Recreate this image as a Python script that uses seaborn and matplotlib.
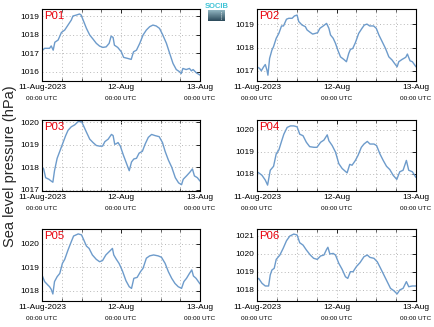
import numpy as np
import pandas as pd
import matplotlib
matplotlib.use("Agg")
import matplotlib.pyplot as plt
from matplotlib.ticker import MultipleLocator, FixedLocator
import seaborn as sns

# Hourly offsets from 11-Aug-2023 00:00 UTC and sea level pressure (hPa) per station
p01_hours = [0, 0.8, 2.3, 2.8, 3.4, 3.9, 4.9, 5.9, 6.9, 7.9, 8.9, 9.4, 10.4, 11.4, 11.9, 12.5, 13.5, 14.5,
             15.5, 16.5, 17.5, 18.5, 19.5, 20.4, 21.0, 21.6, 22.0, 23.0, 24.1, 24.8, 26.1, 27.1, 27.8,
             28.7, 29.7, 30.7, 31.7, 32.7, 33.7, 34.7, 35.7, 36.7, 37.8, 38.8, 39.8, 40.8, 41.8, 42.3,
             42.8, 43.8, 44.8, 45.4, 45.9, 46.9, 48.0]
p01_slp = [1017.14, 1017.27, 1017.27, 1017.40, 1017.17, 1017.60, 1017.72, 1018.13, 1018.26, 1018.53,
           1018.80, 1019.02, 1019.07, 1019.13, 1019.07, 1018.80, 1018.35, 1017.99, 1017.77, 1017.54,
           1017.39, 1017.32, 1017.35, 1017.54, 1017.93, 1017.86, 1017.44, 1017.32, 1017.08, 1016.78,
           1016.72, 1016.67, 1017.08, 1017.17, 1017.54, 1017.99, 1018.26, 1018.44, 1018.53, 1018.48,
           1018.35, 1017.99, 1017.54, 1016.99, 1016.45, 1016.12, 1016.00, 1015.90, 1016.18, 1016.12,
           1016.18, 1016.05, 1016.12, 1015.94, 1015.82]

p02_hours = [0, 0.8, 1.3, 2.0, 2.5, 3.0, 3.3, 3.8, 4.5, 5.0, 5.8, 6.6, 7.4, 8.0, 8.9, 9.6, 10.6, 11.3,
             12.1, 12.6, 13.6, 14.6, 15.1, 16.1, 16.8, 17.6, 18.3, 19.0, 20.0, 21.0, 21.7, 22.2, 23.0,
             23.7, 24.4, 25.2, 26.2, 27.0, 27.7, 28.2, 28.9, 29.7, 30.7, 31.7, 32.4, 33.2, 34.0, 35.2,
             36.0, 36.8, 37.8, 38.8, 39.8, 40.8, 41.5, 42.3, 42.8, 43.8, 44.9, 45.4, 46.2, 46.9, 48.0]
p02_slp = [1017.17, 1017.10, 1017.00, 1017.17, 1017.27, 1017.03, 1016.81, 1017.53, 1017.89, 1018.04,
           1018.40, 1018.61, 1018.93, 1018.93, 1019.22, 1019.26, 1019.26, 1019.36, 1019.40, 1019.12,
           1018.97, 1018.90, 1018.76, 1018.65, 1018.58, 1018.61, 1018.64, 1018.83, 1018.93, 1019.04,
           1018.83, 1018.54, 1018.40, 1018.18, 1017.89, 1017.60, 1017.49, 1017.39, 1017.75, 1017.92,
           1017.96, 1018.21, 1018.61, 1018.83, 1018.97, 1019.01, 1018.93, 1018.93, 1018.83, 1018.54,
           1018.25, 1017.96, 1017.60, 1017.46, 1017.32, 1017.17, 1017.39, 1017.49, 1017.58, 1017.72,
           1017.43, 1017.39, 1017.17]

p03_hours = [0, 0.5, 1.1, 2.1, 2.8, 3.3, 3.8, 4.6, 5.4, 6.4, 7.2, 7.9, 8.9, 9.9, 11.0, 12.0, 12.5, 13.5,
             14.5, 15.5, 16.5, 17.5, 18.4, 19.1, 20.1, 21.1, 21.6, 22.1, 22.6, 23.1, 23.8, 24.7, 25.5,
             26.5, 27.2, 27.9, 28.7, 29.5, 30.5, 31.3, 32.3, 33.3, 34.3, 35.6, 36.6, 37.4, 38.4, 39.4,
             40.5, 41.5, 42.4, 42.9, 43.9, 44.9, 45.7, 46.3, 47.2, 48.0]
p03_slp = [1018.01, 1017.93, 1017.54, 1017.47, 1017.39, 1017.34, 1017.85, 1018.40, 1018.71, 1019.10,
           1019.41, 1019.64, 1019.80, 1019.88, 1020.03, 1020.03, 1019.88, 1019.56, 1019.25, 1019.10,
           1018.97, 1018.94, 1018.94, 1019.14, 1019.25, 1019.46, 1019.41, 1019.02, 1019.05, 1019.10,
           1018.94, 1018.55, 1018.24, 1017.85, 1018.24, 1018.37, 1018.40, 1018.63, 1018.71, 1019.02,
           1019.33, 1019.46, 1019.41, 1019.36, 1019.10, 1018.71, 1018.32, 1018.01, 1017.54, 1017.31,
           1017.23, 1017.47, 1017.62, 1017.78, 1017.93, 1017.62, 1017.54, 1017.39]

p04_hours = [0, 0.8, 1.5, 2.5, 3.2, 4.0, 5.0, 5.8, 6.6, 7.4, 8.1, 9.1, 10.1, 11.1, 12.1, 12.9, 13.9, 14.9,
             15.9, 17.2, 18.1, 19.2, 20.2, 21.2, 21.7, 22.7, 23.7, 24.7, 25.7, 27.2, 28.0, 28.7, 29.7,
             30.5, 31.5, 32.3, 33.3, 34.1, 35.3, 36.1, 37.1, 38.1, 39.1, 40.1, 41.1, 42.2, 43.1, 44.1,
             45.1, 45.8, 46.9, 48.0]
p04_slp = [1018.08, 1018.00, 1017.92, 1017.70, 1017.47, 1018.15, 1018.33, 1018.90, 1019.08, 1019.47,
           1019.80, 1020.11, 1020.18, 1020.18, 1020.14, 1019.80, 1019.73, 1019.43, 1019.23, 1019.20,
           1019.20, 1019.43, 1019.53, 1019.77, 1019.50, 1019.28, 1018.98, 1018.45, 1018.23, 1018.03,
           1018.42, 1018.38, 1018.60, 1018.83, 1019.20, 1019.35, 1019.47, 1019.35, 1019.35, 1019.28,
           1018.90, 1018.60, 1018.33, 1018.18, 1017.92, 1017.73, 1018.08, 1018.15, 1018.60, 1018.15,
           1018.08, 1017.82]

p05_hours = [0, 0.8, 1.8, 2.3, 2.8, 3.3, 3.8, 4.6, 5.4, 6.2, 6.9, 7.9, 8.9, 9.6, 11.0, 12.0, 12.7, 13.5,
             14.3, 15.3, 16.5, 17.5, 18.4, 19.4, 20.4, 21.4, 21.8, 22.6, 23.4, 24.4, 25.5, 26.5, 27.2,
             27.9, 28.9, 29.9, 30.7, 31.7, 32.7, 33.9, 35.3, 36.3, 37.4, 38.4, 39.4, 40.4, 41.4, 42.4,
             43.1, 43.9, 44.8, 45.5, 46.0, 46.8, 48.0]
p05_slp = [1018.67, 1018.39, 1018.24, 1018.17, 1018.06, 1017.86, 1018.39, 1018.60, 1018.74, 1019.17,
           1019.34, 1019.74, 1020.10, 1020.34, 1020.43, 1020.39, 1020.17, 1019.91, 1019.81, 1019.53,
           1019.34, 1019.24, 1019.29, 1019.53, 1019.67, 1019.81, 1019.53, 1019.34, 1019.17, 1018.86,
           1018.43, 1018.17, 1018.10, 1018.53, 1018.57, 1018.81, 1018.96, 1019.39, 1019.49, 1019.53,
           1019.49, 1019.43, 1019.17, 1018.81, 1018.53, 1018.31, 1018.17, 1018.10, 1018.39, 1018.53,
           1018.74, 1018.89, 1018.63, 1018.53, 1018.29]

p06_hours = [0, 0.5, 1.5, 2.5, 3.5, 4.0, 4.5, 5.2, 5.8, 6.9, 7.9, 8.9, 9.9, 11.1, 12.1, 12.9, 13.9, 14.9,
             16.1, 17.1, 18.2, 19.2, 20.2, 21.0, 21.4, 22.0, 23.0, 23.7, 24.7, 25.7, 26.7, 27.4, 28.2,
             29.0, 30.0, 31.1, 32.3, 33.3, 34.1, 35.3, 36.3, 37.3, 38.3, 39.3, 40.3, 41.3, 42.3, 43.1,
             44.1, 45.1, 45.8, 46.9, 48.0]
p06_slp = [1018.59, 1018.64, 1018.37, 1018.22, 1018.22, 1018.83, 1019.10, 1019.20, 1019.69, 1019.93,
           1020.30, 1020.72, 1020.98, 1021.09, 1021.04, 1020.61, 1020.48, 1020.21, 1019.93, 1019.75,
           1019.69, 1019.88, 1019.93, 1020.24, 1020.36, 1019.99, 1020.02, 1019.93, 1019.47, 1019.14,
           1018.73, 1018.64, 1019.01, 1019.01, 1019.29, 1019.51, 1019.84, 1019.93, 1019.80, 1019.75,
           1019.56, 1019.20, 1018.83, 1018.46, 1018.09, 1017.96, 1017.78, 1018.00, 1018.09, 1018.46,
           1018.18, 1018.22, 1018.22]

station_names = ["P01", "P02", "P03", "P04", "P05", "P06"]
date_ticks = [0, 24, 48]
date_labels = ["11-Aug-2023", "12-Aug", "13-Aug"]
time_label = "00:00 UTC"
y_label = "Sea level pressure (hPa)"

series = [
    (p01_hours, p01_slp, (1015.5, 1019.4)),
    (p02_hours, p02_slp, (1016.56, 1019.66)),
    (p03_hours, p03_slp, (1016.95, 1020.1)),
    (p04_hours, p04_slp, (1017.2, 1020.45)),
    (p05_hours, p05_slp, (1017.56, 1020.64)),
    (p06_hours, p06_slp, (1017.39, 1021.37)),
]

sns.set_style("white")
plt.rcParams["font.family"] = ["Liberation Sans", "DejaVu Sans"]

W, H = 434, 327
fig = plt.figure(figsize=(W / 100, H / 100), dpi=100)

# panel boxes in pixel units: (left, top, right, bottom)
boxes = [
    (42, 9, 200, 81), (257, 9, 416, 81),
    (42, 120, 200, 191), (257, 120, 416, 191),
    (42, 229, 200, 301), (257, 229, 416, 301),
]

line_color = "#6d9bcb"

for name, (hrs, slp, ylim), (l, t, r, b) in zip(station_names, series, boxes):
    ax = fig.add_axes([l / W, 1 - b / H, (r - l) / W, (b - t) / H])
    df = pd.DataFrame({"hours": hrs, "slp": slp})
    sns.lineplot(data=df, x="hours", y="slp", ax=ax, color=line_color, linewidth=1.0)
    ax.set_xlim(0, 48)
    ax.set_ylim(*ylim)
    ax.xaxis.set_major_locator(FixedLocator(date_ticks))
    ax.xaxis.set_minor_locator(MultipleLocator(6))
    ax.yaxis.set_major_locator(MultipleLocator(1))
    ax.set_xticklabels(date_labels)
    ax.set_xlabel("")
    ax.set_ylabel("")
    ax.grid(True, which="both", color="#b8b8b8", linestyle=(0, (1, 2.5)), linewidth=0.7)
    ax.tick_params(axis="both", which="major", direction="in", length=3, width=0.6,
                   labelsize=6, pad=2, top=True, right=True, colors="black")
    ax.tick_params(axis="x", which="minor", direction="in", length=2, width=0.5,
                   top=True, bottom=True)
    for sp in ax.spines.values():
        sp.set_color("black")
        sp.set_linewidth(0.8)
    for xt in date_ticks:
        ax.annotate(time_label, xy=(xt, 0), xycoords=("data", "axes fraction"),
                    xytext=(0, -12.6), textcoords="offset points",
                    ha="center", va="center", fontsize=4.6, color="black")
    ax.text(0.012, 0.97, name, transform=ax.transAxes, ha="left", va="top",
            fontsize=8.2, color="#e8000b")

fig.text(10 / W, 1 - 166 / H, y_label, rotation=90, ha="center", va="center", fontsize=10.5)

# small SOCIB mark between the two top panels
logo_ax = fig.add_axes([208 / W, 1 - 21 / H, 17 / W, 11 / H])
grad = np.linspace(0, 1, 20).reshape(-1, 1)
logo_ax.imshow(grad, aspect="auto", cmap=sns.blend_palette(["#8fb3bf", "#2c4b5b"], as_cmap=True),
               extent=(0, 1, 0, 1))
logo_ax.plot([0.78, 0.78], [0.15, 0.95], color="white", linestyle=(0, (1, 1.5)), linewidth=0.6)
logo_ax.set_axis_off()
fig.text(216.5 / W, 1 - 6 / H, "SOCIB", ha="center", va="center", fontsize=5.5,
         color="#3fc3d6", fontweight="bold")

fig.savefig("out.png", dpi=100)
